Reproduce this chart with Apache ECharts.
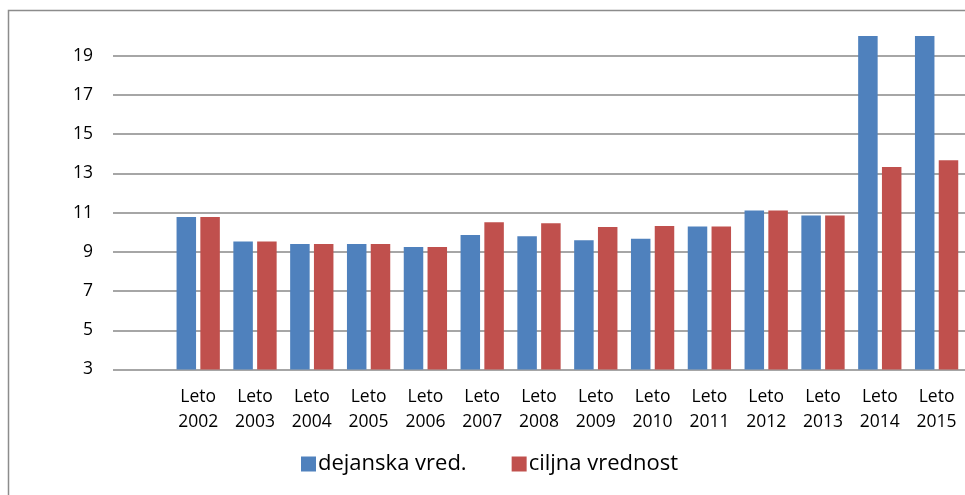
<!DOCTYPE html>
<html>
<head>
<meta charset="utf-8">
<script src="https://cdn.jsdelivr.net/npm/echarts@6/dist/echarts.min.js"></script>
<style>
html,body{margin:0;padding:0;background:#fff;}
#chart{width:965px;height:495px;}
</style>
</head>
<body>
<div id="chart"></div>
<script>
// Data
var years = ['2002','2003','2004','2005','2006','2007','2008','2009','2010','2011','2012','2013','2014','2015'];
var dejanska = [10.77, 9.52, 9.40, 9.40, 9.25, 9.86, 9.79, 9.59, 9.66, 10.29, 11.10, 10.85, 20, 20];
var ciljna   = [10.77, 9.52, 9.40, 9.40, 9.25, 10.51, 10.46, 10.26, 10.32, 10.29, 11.10, 10.85, 13.32, 13.67];
var seriesNames = ['dejanska vred.', 'ciljna vrednost'];
var yMin = 3, yMax = 20, yStep = 2;

var FONT = '"Open Sans", Lato, sans-serif';
var categories = [''].concat(years.map(function(y){ return 'Leto\n' + y; }));
var d1 = [null].concat(dejanska);
var d2 = [null].concat(ciljna);

var chart = echarts.init(document.getElementById('chart'), null, {renderer:'canvas'});
chart.setOption({
  animation: false,
  backgroundColor: '#ffffff',
  graphic: [{
    type: 'rect',
    shape: {x: 8.5, y: 10.5, width: 1100, height: 600},
    style: {fill: 'none', stroke: '#8c8c8c', lineWidth: 1.5},
    silent: true
  }],
  grid: {left: 113, right: 0, top: 36, bottom: 125.5},
  legend: {
    left: 301, top: 453, padding: 0,
    icon: 'rect', itemWidth: 15, itemHeight: 15, itemGap: 45,
    textStyle: {fontFamily: FONT, fontSize: 22, color: '#000', padding: [0, 0, 0, -3]},
    data: seriesNames
  },
  xAxis: {
    type: 'category',
    data: categories,
    axisLine: {show: false},
    axisTick: {show: false},
    axisLabel: {
      interval: 0, margin: 15,
      fontFamily: FONT, fontSize: 17.5, color: '#000', lineHeight: 25
    }
  },
  yAxis: {
    type: 'value',
    min: yMin, max: yMax, interval: yStep,
    axisLine: {show: false},
    axisTick: {show: false},
    axisLabel: {
      showMaxLabel: false, margin: 20,
      fontFamily: FONT, fontSize: 17.5, color: '#000'
    },
    splitLine: {show: true, showMaxLine: false, lineStyle: {color: '#888888', width: 1.5}}
  },
  series: [
    {name: seriesNames[0], type: 'bar', data: d1, barWidth: 19.5, barGap: '22%',
     itemStyle: {color: '#4F81BD'}, clip: true},
    {name: seriesNames[1], type: 'bar', data: d2, barWidth: 19.5, barGap: '22%',
     itemStyle: {color: '#C0504D'}, clip: true}
  ]
});
</script>
</body>
</html>
